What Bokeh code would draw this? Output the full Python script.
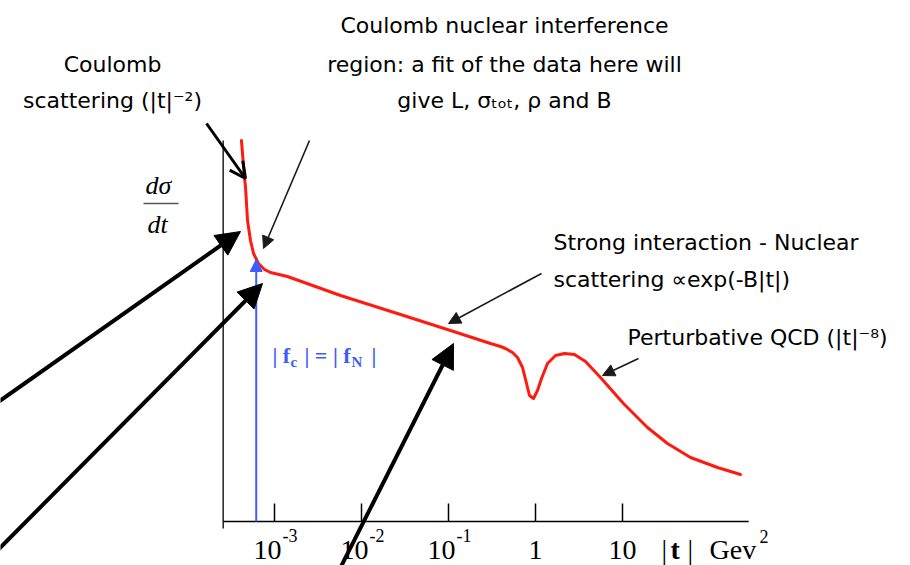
from bokeh.plotting import figure
from bokeh.models import Range1d, Arrow, NormalHead, OpenHead, Label, ColumnDataSource
from bokeh.embed import file_html
from bokeh.resources import INLINE
from bokeh.core.properties import value

# ---------------- data ----------------
# log10(|t| / GeV^2)
log_t = [-3.38, -3.345, -3.333, -3.31, -3.276, -3.241, -3.184, -3.115, -3.046,
         -2.851, -2.241, -1.552, -0.977, -0.517, -0.402, -0.345, -0.264, -0.207,
         -0.149, -0.103, -0.069, -0.023, 0.023, 0.069, 0.138, 0.23, 0.333, 0.448,
         0.575, 0.747, 1.011, 1.287, 1.517, 1.782, 2.092, 2.356]
# log(dsigma/dt), arbitrary units
log_dsdt = [7.62, 6.88, 6.68, 6.02, 5.62, 5.36, 5.16, 5.04, 4.98,
            4.90, 4.52, 4.14, 3.82, 3.56, 3.50, 3.46, 3.38, 3.28,
            3.08, 2.76, 2.52, 2.46, 2.62, 2.86, 3.16, 3.32, 3.36, 3.34,
            3.20, 2.88, 2.36, 1.88, 1.56, 1.28, 1.08, 0.94]
tick_log_t = [-3, -2, -1, 0, 1]
tick_base = ["10", "10", "10", "1", "10"]
tick_exp = ["-3", "-2", "-1", "", ""]
interference_log_t = -3.21   # |f_c| = |f_N|
x_axis_span = [-3.59, 2.45]
y_axis_top = 7.62

# ---------------- layout helpers (pixel -> plot coords) ----------------
W, H = 910, 565
PX_T3, PX_DEC = 274.0, 87.0
PY_0, PY_UNIT = 521.0, 50.0
TXT_SHIFT = 8


def X(px):
    return (px - PX_T3) / PX_DEC - 3.0


def Y(py):
    return (PY_0 - py) / PY_UNIT


p = figure(width=W, height=H, x_range=Range1d(X(0), X(W)), y_range=Range1d(Y(H), Y(0)),
           output_backend="svg", toolbar_location=None, min_border=0,
           x_axis_location=None, y_axis_location=None)
p.grid.visible = False
p.outline_line_color = None
p.background_fill_color = "white"
p.border_fill_color = "white"

# axes
p.segment(x0=[x_axis_span[0]], y0=[0], x1=[x_axis_span[1]], y1=[0], line_color="black", line_width=1.5)
p.segment(x0=[x_axis_span[0]], y0=[Y(528)], x1=[x_axis_span[0]], y1=[y_axis_top], line_color="black", line_width=1.3)
tick_len = 18 / PY_UNIT
p.segment(x0=tick_log_t, y0=[0] * len(tick_log_t), x1=tick_log_t, y1=[tick_len] * len(tick_log_t),
          line_color="black", line_width=1.5)

base_off = [-7 if e else 0 for e in tick_exp]
src_t = ColumnDataSource(dict(x=tick_log_t, base=tick_base, exp=tick_exp, off=base_off))
p.text(x="x", y=Y(557 - TXT_SHIFT), text="base", source=src_t, x_offset="off", text_align="center",
       text_baseline="alphabetic", text_font=value("Liberation Serif"), text_font_size="28px",
       text_color="black")
p.text(x="x", y=Y(543 - TXT_SHIFT), text="exp", source=src_t, x_offset=8, text_align="left",
       text_baseline="alphabetic", text_font=value("Liberation Serif"), text_font_size="18px",
       text_color="black")


def lab(px, py, txt, size, font="Liberation Serif", align="left", style="normal", color="black"):
    p.add_layout(Label(x=X(px), y=Y(py - TXT_SHIFT), text=txt, text_font=font, text_font_size=size,
                       text_align=align, text_baseline="alphabetic", text_font_style=style,
                       text_color=color))

# axis label  | t |  Gev^2
lab(661, 557, "|", "28px")
lab(670, 557, "t", "28px", style="bold")
lab(687, 557, "|", "28px")
lab(709, 557, "Gev", "28px")
lab(759, 544, "2", "18px")

# y label  dsigma/dt
lab(158, 193, "d\u03c3", "26px", align="center", style="italic")
lab(157, 232, "dt", "26px", align="center", style="italic")
p.segment(x0=[X(143)], y0=[Y(203)], x1=[X(178)], y1=[Y(203)], line_color="#555555", line_width=1.5)

# curve
p.line(log_t, log_dsdt, line_color="#ff1a10", line_width=3, line_join="round", line_cap="round")

# blue arrow |f_c| = |f_N|
BLUE = "#3d5cfa"
p.add_layout(Arrow(x_start=interference_log_t, y_start=0, x_end=interference_log_t, y_end=Y(259),
                   line_color=BLUE, line_width=2,
                   end=NormalHead(size=12, fill_color=BLUE, line_color=BLUE)))
lab(272, 363, "| f", "22px", color=BLUE, style="bold")
lab(290, 369, "c", "15px", color=BLUE, style="bold")
lab(304, 363, "| = | f", "22px", color=BLUE, style="bold")
lab(351, 369, "N", "15px", color=BLUE, style="bold")
lab(371, 363, "|", "22px", color=BLUE, style="bold")

# arrows
def thick(x0, y0, x1, y1):
    p.add_layout(Arrow(x_start=X(x0), y_start=Y(y0), x_end=X(x1), y_end=Y(y1),
                       line_color="black", line_width=4,
                       end=NormalHead(size=24, fill_color="black", line_color="black")))


def thin(x0, y0, x1, y1):
    p.add_layout(Arrow(x_start=X(x0), y_start=Y(y0), x_end=X(x1), y_end=Y(y1),
                       line_color="#1a1a1a", line_width=1.6,
                       end=NormalHead(size=12, fill_color="#1a1a1a", line_color="#1a1a1a")))

thick(-20, 414, 240, 231)
thick(-20, 567, 262, 283)
thick(336, 575, 453, 343)
thin(309, 140, 263, 248)
thin(541, 273, 448, 323)
thin(638, 358, 602, 375)
p.add_layout(Arrow(x_start=X(206), y_start=Y(123), x_end=X(245), y_end=Y(178),
                   line_color="black", line_width=3,
                   end=OpenHead(size=16, line_width=3, line_color="black")))

# annotations text
F = "DejaVu Sans"
FS = "22px"
lab(112, 72, "Coulomb", FS, font=F, align="center")
lab(112, 108, "scattering (|t|\u207b\u00b2)", FS, font=F, align="center")
lab(504, 33, "Coulomb nuclear interference", FS, font=F, align="center")
lab(504, 72, "region: a fit of the data here will", FS, font=F, align="center")
lab(504, 108, "give L, \u03c3\u209c\u2092\u209c, \u03c1 and B", FS, font=F, align="center")
lab(553, 250, "Strong interaction - Nuclear", FS, font=F)
lab(553, 287, "scattering \u221dexp(-B|t|)", FS, font=F)
lab(627, 345, "Perturbative QCD (|t|\u207b\u2078)", FS, font=F)

open("out.html", "w").write(file_html(p, INLINE))
